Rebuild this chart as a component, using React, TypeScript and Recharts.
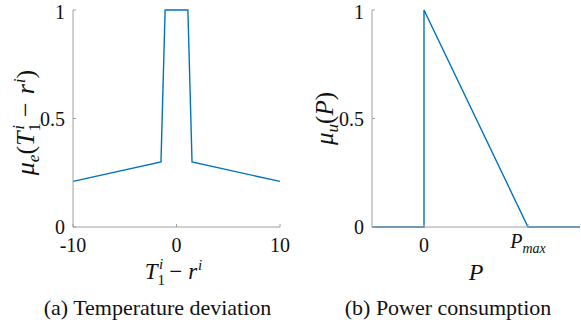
import React from "react";
import { LineChart, Line, XAxis, YAxis, Label } from "recharts";

// (a) temperature deviation membership
const TEMP_DEV = [-10, -1.5, -1.1, 1.1, 1.5, 10];
const TEMP_MU = [0.21, 0.3, 1, 1, 0.3, 0.21];
const TEMP_TICKS = [-10, 0, 10];

// (b) power consumption membership (P in units of Pmax)
const POWER = [-0.5, 0, 0, 1, 1.5];
const POWER_MU = [0, 0, 1, 0, 0];
const POWER_TICKS = [0, 1];

const MU_TICKS = [0, 0.5, 1];

const SERIF = "'Liberation Serif', 'DejaVu Serif', 'Noto Serif CJK SC', serif";
const INK = "#111";
const BOX = "#a0a0a0";
const BLUE = "#0072BD";
const TICK_FONT = 20;
const LABEL_FONT = 23;
const SUB_FONT = 15;

const tempData = TEMP_DEV.map((x, i) => ({ x, mu: TEMP_MU[i] }));
const powerData = POWER.map((x, i) => ({ x, mu: POWER_MU[i] }));

const yTick = { fontSize: TICK_FONT, fill: INK, style: { fontFamily: SERIF } };

function fmtMu(v: number) {
  return v === 0.5 ? "0.5" : String(v);
}

function TempTick({ x, y, payload }: any) {
  return (
    <text x={x} y={y} dy="0.71em" textAnchor="middle" fontSize={TICK_FONT} style={{ fontFamily: SERIF }} fill={INK}>
      {String(payload.value)}
    </text>
  );
}

function PowerTick({ x, y, payload }: any) {
  if (payload.value === 0) {
    return (
      <text x={x} y={y} dy="0.71em" textAnchor="middle" fontSize={TICK_FONT} style={{ fontFamily: SERIF }} fill={INK}>
        0
      </text>
    );
  }
  return (
    <text x={x} y={y - 4} dy="0.71em" textAnchor="middle" fontSize={TICK_FONT} style={{ fontFamily: SERIF }} fill={INK}>
      <tspan fontStyle="italic">P</tspan>
      <tspan fontStyle="italic" fontSize={14} dy={5}>max</tspan>
    </text>
  );
}

// T_1^i − r^i as tspans
function TDiff({ sub = SUB_FONT, gap = 6 }: { sub?: number; gap?: number }) {
  return (
    <>
      <tspan fontStyle="italic">T</tspan>
      <tspan fontSize={sub} dy={6}>1</tspan>
      <tspan fontSize={sub} fontStyle="italic" dx={-sub * 0.4} dy={-16}>i</tspan>
      <tspan dx={gap} dy={10}>−</tspan>
      <tspan fontStyle="italic" dx={gap}>r</tspan>
      <tspan fontSize={sub} fontStyle="italic" dx={1} dy={-9}>i</tspan>
    </>
  );
}

function TempXLabel({ viewBox }: any) {
  const cx = viewBox.x + viewBox.width / 2 - 3;
  const y = viewBox.y + 52;
  return (
    <text x={cx} y={y} textAnchor="middle" fontSize={LABEL_FONT} style={{ fontFamily: SERIF }} fill={INK}>
      <TDiff />
    </text>
  );
}

function TempYLabel({ viewBox }: any) {
  const x = viewBox.x + 21;
  const cy = viewBox.y + viewBox.height / 2 + 4;
  return (
    <text x={x} y={cy} transform={`rotate(-90 ${x} ${cy})`} textAnchor="middle" fontSize={26} style={{ fontFamily: SERIF }} fill={INK}>
      <tspan fontStyle="italic">μ</tspan>
      <tspan fontSize={17} fontStyle="italic" dy={5}>e</tspan>
      <tspan dy={-5}>(</tspan>
      <TDiff sub={17} gap={8} />
      <tspan dy={9}>)</tspan>
    </text>
  );
}

function PowerXLabel({ viewBox }: any) {
  const cx = viewBox.x + viewBox.width / 2;
  const y = viewBox.y + 53;
  return (
    <text x={cx} y={y} textAnchor="middle" fontSize={LABEL_FONT + 1} style={{ fontFamily: SERIF }} fontStyle="italic" fill={INK}>
      P
    </text>
  );
}

function PowerYLabel({ viewBox }: any) {
  const x = viewBox.x + 21;
  const cy = viewBox.y + viewBox.height / 2;
  return (
    <text x={x} y={cy} transform={`rotate(-90 ${x} ${cy})`} textAnchor="middle" fontSize={25} style={{ fontFamily: SERIF }} fill={INK}>
      <tspan fontStyle="italic">μ</tspan>
      <tspan fontSize={17} fontStyle="italic" dy={5}>u</tspan>
      <tspan dy={-5}>(</tspan>
      <tspan fontStyle="italic">P</tspan>
      <tspan>)</tspan>
    </text>
  );
}

export default function App() {
  return (
    <div style={{ position: "fixed", left: 0, top: 0, width: 581, height: 326, background: "#fff", fontFamily: SERIF }}>
      <div style={{ position: "absolute", left: 0, top: 0 }}>
        <LineChart width={290} height={326} data={tempData} margin={{ top: 10, right: 10, left: 13, bottom: 69 }}>
          <XAxis
            dataKey="x" type="number" domain={[-10, 10]} ticks={TEMP_TICKS} height={30}
            stroke={BOX} tickSize={-3} tickMargin={14} tick={<TempTick />}
          >
            <Label content={<TempXLabel />} />
          </XAxis>
          <XAxis
            xAxisId="top" orientation="top" type="number" domain={[-10, 10]} ticks={TEMP_TICKS}
            height={0} stroke={BOX} tickSize={-3} tick={false}
          />
          <YAxis
            type="number" domain={[0, 1]} ticks={MU_TICKS} width={60}
            stroke={BOX} tickSize={-3} tickMargin={11} tick={yTick} tickFormatter={fmtMu}
          >
            <Label content={<TempYLabel />} />
          </YAxis>
          <YAxis
            yAxisId="right" orientation="right" type="number" domain={[0, 1]} ticks={MU_TICKS}
            width={0} stroke={BOX} tickSize={-3} tick={false}
          />
          <Line dataKey="mu" type="linear" stroke={BLUE} strokeWidth={1.4} dot={false} isAnimationActive={false} />
        </LineChart>
      </div>
      <div style={{ position: "absolute", left: 290, top: 0 }}>
        <LineChart width={291} height={326} data={powerData} margin={{ top: 10, right: 1, left: 22, bottom: 69 }}>
          <XAxis
            dataKey="x" type="number" domain={[-0.5, 1.5]} ticks={POWER_TICKS} height={30}
            stroke={BOX} tickSize={-3} tickMargin={14} tick={<PowerTick />}
          >
            <Label content={<PowerXLabel />} />
          </XAxis>
          <XAxis
            xAxisId="top" orientation="top" type="number" domain={[-0.5, 1.5]} ticks={POWER_TICKS}
            height={0} stroke={BOX} tickSize={-3} tick={false}
          />
          <YAxis
            type="number" domain={[0, 1]} ticks={MU_TICKS} width={60}
            stroke={BOX} tickSize={-3} tickMargin={11} tick={yTick} tickFormatter={fmtMu}
          >
            <Label content={<PowerYLabel />} />
          </YAxis>
          <YAxis
            yAxisId="right" orientation="right" type="number" domain={[0, 1]} ticks={MU_TICKS}
            width={0} stroke={BOX} tickSize={-3} tick={false}
          />
          <Line dataKey="mu" type="linear" stroke={BLUE} strokeWidth={1.4} dot={false} isAnimationActive={false} />
        </LineChart>
      </div>
      <svg width={581} height={326} style={{ position: "absolute", left: 0, top: 0, pointerEvents: "none" }}>
        <text x={157.5} y={315} textAnchor="middle" fontSize={22} style={{ fontFamily: SERIF }} fill={INK}>
          (a) Temperature deviation
        </text>
        <text x={448} y={315} textAnchor="middle" fontSize={22} style={{ fontFamily: SERIF }} fill={INK}>
          (b) Power consumption
        </text>
      </svg>
    </div>
  );
}
